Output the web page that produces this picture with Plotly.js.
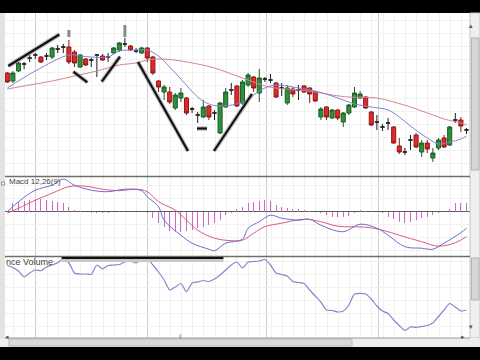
<!DOCTYPE html>
<html><head><meta charset="utf-8">
<script src="https://cdn.plot.ly/plotly-3.0.1.min.js"></script>
<style>html,body{margin:0;padding:0;background:#000;}#chart{width:480px;height:360px;}</style>
</head><body><div id="chart"></div>
<script>
// ---- price candles (one per trading day) ----
const openP  = [32.7,31.9,32.9,33.6,34.2,34.5,34.3,34.4,34.3,35.1, 35.3,35.3,34.8,33.3,34.1,34.0,34.5,34.4,34.3,34.7, 35.0,35.6,35.4,34.9,34.7,35.2,34.3,31.9,30.8,30.8, 29.2,30.2,30.2,29.1,28.5,28.3,29.4,28.7,26.7,29.3, 31.0,31.4,29.7,31.5,32.3,30.7,32.1,32.0,31.7,31.2, 29.7,31.1,31.0,31.4,31.2,30.8,28.3,29.3,28.2,29.0, 27.8,28.7,29.3,30.2,30.3,28.8,27.8,27.3,27.7,27.3, 25.4,24.8,26.0,26.5,24.8,25.7,24.2,25.2,26.2,25.5, 28.0,28.0,27.0];
const highP  = [32.8,32.9,33.8,33.8,34.5,34.7,34.4,34.7,35.3,35.5, 35.6,36.0,35.0,34.6,34.2,34.2,34.6,34.6,34.7,35.3, 35.8,36.2,35.5,35.2,35.3,35.3,34.4,32.0,31.5,31.3, 30.7,31.2,30.3,29.3,28.8,30.0,29.5,29.0,29.8,31.2, 31.7,31.5,32.0,32.7,32.4,33.1,32.3,32.6,31.8,31.7, 31.5,31.3,31.5,31.5,31.3,30.9,29.3,29.4,29.1,29.1, 28.8,29.6,31.3,30.9,30.4,28.9,28.5,27.6,28.2,27.4, 26.2,25.2,26.5,26.7,26.0,26.0,25.2,26.2,26.5,27.4, 28.7,28.3,27.2];
const lowP   = [31.7,31.7,32.8,33.1,33.8,34.1,33.7,34.0,34.1,34.7, 34.7,33.6,33.3,33.2,33.4,33.3,32.3,33.9,33.8,34.6, 34.8,35.3,34.9,34.7,34.6,33.8,32.5,30.8,30.0,29.6, 29.0,29.8,28.5,28.7,27.7,28.2,28.0,28.0,26.6,29.2, 30.5,29.3,29.5,31.3,30.8,29.8,31.8,31.7,30.2,30.4, 29.5,30.3,30.0,30.7,29.7,29.8,28.0,28.0,28.1,28.0, 27.3,28.5,29.2,30.1,29.1,27.4,27.0,26.9,27.0,25.6, 24.6,24.5,25.0,25.2,24.3,24.7,23.8,25.0,25.2,25.4, 27.7,26.8,26.6];
const closeP = [31.8,32.7,33.7,33.6,34.2,34.5,33.8,34.4,35.2,35.1, 35.3,33.8,33.7,34.5,33.5,34.0,34.5,34.0,34.3,35.2, 35.7,35.6,35.0,34.9,35.2,34.2,32.7,31.3,31.3,29.8, 30.5,30.7,28.7,29.1,28.5,29.3,28.3,28.7,29.7,30.8, 31.0,29.4,31.8,32.5,31.2,32.2,32.1,32.0,30.3,31.2, 31.2,30.6,31.0,30.8,30.6,29.9,29.1,28.3,29.0,28.2, 28.7,29.5,30.7,30.6,29.2,27.5,27.8,27.3,27.7,25.7, 24.8,24.8,26.0,25.3,25.7,25.1,24.7,26.0,25.3,27.3, 28.0,27.4,27.0];

// ---- moving averages ----
const maFastIdx = [0,5,11,13,15,18,20,23,25,27,29,31,34,36,38,41,43,44,46,48,50,52,55,58,60,62,65,68,70,72,75,77,79,81,82];
const maFast    = [31.2,32.9,34.5,34.4,34.3,34.3,34.9,35.0,35.0,34.4,33.3,32.1,30.3,29.6,29.4,29.6,30.0,30.5,31.2,31.5,31.4,31.2,30.9,30.4,30.0,29.6,29.3,29.0,28.3,27.4,26.2,25.6,25.8,26.1,26.4];
const maSlowIdx = [0,4,8,12,16,20,23,25,28,31,34,37,41,43,46,48,52,55,58,61,66,69,72,76,78,81,82];
const maSlow    = [31.1,31.5,31.9,32.4,32.9,33.5,33.7,34.0,34.1,33.9,33.6,33.2,32.4,32.0,31.4,31.2,31.0,30.8,30.5,30.3,30.2,29.8,29.3,28.5,28.1,27.7,27.5];

// ---- MACD 12,26(9) ----
const macdIdx  = [0,2,5,8,10,12,15,18,21,24,25,27,28,31,33,36,37,39,42,43,45,47,49,52,54,56,60,63,66,68,71,74,76,78,81,82];
const macdLine = [0,0.20,0.43,0.53,0.65,0.53,0.43,0.40,0.45,0.42,0.30,0.10,-0.17,-0.47,-0.63,-0.75,-0.78,-0.63,-0.55,-0.33,-0.20,-0.07,-0.13,-0.17,-0.15,-0.27,-0.40,-0.25,-0.33,-0.47,-0.70,-0.73,-0.75,-0.63,-0.42,-0.33];
const signalIdx  = [0,2,5,8,11,14,17,20,23,25,27,30,32,34,37,40,42,44,46,49,53,56,59,64,67,70,74,77,80,82];
const signalLine = [-0.03,0.07,0.23,0.37,0.50,0.51,0.45,0.42,0.45,0.40,0.20,0.03,-0.17,-0.37,-0.53,-0.58,-0.57,-0.43,-0.30,-0.23,-0.15,-0.20,-0.29,-0.31,-0.37,-0.47,-0.60,-0.69,-0.62,-0.50];
const macdHist = [0.01,0.17,0.19,0.21,0.23,0.25,0.25,0.23,0.22,0.20, 0.17,0.10,0.03,0.01,-0.01,-0.02,-0.03,-0.03,-0.02,-0.01, 0.01,0.01,0,-0.01,-0.01,-0.03,-0.13,-0.23,-0.31,-0.38, -0.40,-0.40,-0.39,-0.37,-0.33,-0.30,-0.27,-0.22,-0.17,-0.07, -0.02,0.05,0.10,0.18,0.20,0.22,0.23,0.22,0.13,0.09, 0.07,0.05,0.05,0.03,0.02,0,-0.03,-0.07,-0.10,-0.11, -0.10,-0.09,-0.03,0.03,0.02,0.01,-0.01,-0.03,-0.10,-0.15, -0.20,-0.22,-0.20,-0.17,-0.13,-0.10,-0.07,-0.03,-0.01,0.05, 0.17,0.17,0.17];

// ---- On Balance Volume ----
const obv = [3.45,3.25,2.9,2.3,2.7,3.0,2.93,3.3,3.5,3.73, 4.1,3.7,2.7,2.6,2.6,2.57,3.5,3.1,3.45,3.5, 3.55,3.8,3.9,3.7,4.05,4.07,3.5,2.8,2.0,1.0, 1.3,1.65,0.83,1.7,1.8,1.95,1.85,2.1,2.5,3.0, 3.5,3.8,3.2,3.8,3.85,3.9,4.05,3.5,2.7,2.55, 2.4,1.85,1.75,1.65,1.0,0.4,-0.2,-1.0,-1.05,-1.2, -1.1,-0.5,0.6,0.67,0.6,0.1,-0.6,-1.1,-1.35,-2.0, -2.55,-3.05,-2.7,-2.73,-2.65,-2.55,-2.3,-1.65,-1.0,-0.35, -0.7,-1.1,-1.0];

// ---- month boundaries (major grid) ----
const monthBreaks = [5.125, 25.125, 46.2, 66.2];

// ---- user drawings on the chart ----
const trendX0 = [0.18, 11.79, 16.86, 23.34, 36.91, 33.88];
const trendY0 = [33.4, 32.83, 31.83, 33.8, 24.9, 27.15];
const trendX1 = [9.29, 14.29, 20.13, 32.27, 43.7, 35.66];
const trendY1 = [36.55, 31.77, 34.33, 24.9, 30.6, 27.15];
const markIdx = [11, 21];
const markTop = [37.0, 37.5];
const markBot = [36.3, 36.3];
const obvDrawX = [9.7, 38.6];
const obvDrawLevel = 4.25;

const dayIdx = openP.map((_, i) => i);
const isDoji = i => openP[i] === closeP[i];
const pick = (arr, f) => dayIdx.filter(f).map(i => arr[i]);
const bodyF = i => !isDoji(i), dojiF = i => isDoji(i);

const traces = [
  {type:'scatter', mode:'lines', x:maSlowIdx, y:maSlow, xaxis:'x', yaxis:'y', line:{color:'#d48494', width:1, shape:'spline'}, hoverinfo:'skip'},
  {type:'scatter', mode:'lines', x:maFastIdx, y:maFast, xaxis:'x', yaxis:'y', line:{color:'#8282d6', width:1, shape:'spline'}, hoverinfo:'skip'},
  {type:'candlestick', x:dayIdx.filter(bodyF), open:pick(openP,bodyF), high:pick(highP,bodyF), low:pick(lowP,bodyF), close:pick(closeP,bodyF),
   xaxis:'x', yaxis:'y', whiskerwidth:0, hoverinfo:'skip',
   increasing:{line:{color:'#1b5e24', width:1}, fillcolor:'#2f8f3d'},
   decreasing:{line:{color:'#901818', width:1}, fillcolor:'#e02a2a'}},
  {type:'candlestick', x:dayIdx.filter(dojiF), open:pick(openP,dojiF), high:pick(highP,dojiF), low:pick(lowP,dojiF), close:pick(closeP,dojiF),
   xaxis:'x', yaxis:'y', whiskerwidth:0, hoverinfo:'skip',
   increasing:{line:{color:'#1e1e1e', width:1}, fillcolor:'#1e1e1e'},
   decreasing:{line:{color:'#1e1e1e', width:1}, fillcolor:'#1e1e1e'}},
  {type:'bar', x:dayIdx, y:macdHist, xaxis:'x', yaxis:'y2', width:0.2, marker:{color:'#d068c2', line:{width:0}}, hoverinfo:'skip'},
  {type:'scatter', mode:'lines', x:signalIdx, y:signalLine, xaxis:'x', yaxis:'y2', line:{color:'#dc5a80', width:1, shape:'spline'}, hoverinfo:'skip'},
  {type:'scatter', mode:'lines', x:macdIdx, y:macdLine, xaxis:'x', yaxis:'y2', line:{color:'#6c6cd2', width:1, shape:'spline'}, hoverinfo:'skip'},
  {type:'scatter', mode:'lines', x:dayIdx, y:obv, xaxis:'x', yaxis:'y3', line:{color:'#8585cc', width:1.2, shape:'spline', smoothing:0.6}, hoverinfo:'skip'}
];

// page geometry helpers (layout only)
const ML=5, MR=10, MT=13, MB=22, W=480, H=360, PW=W-ML-MR, PH=H-MT-MB;
const px = v => (v-ML)/PW, py = v => (H-MB-v)/PH;

const shapes = [
  {type:'rect', xref:'paper', yref:'paper', x0:px(0), x1:px(ML), y0:py(347), y1:py(MT), fillcolor:'#e3e3e3', line:{width:0}},
  {type:'rect', xref:'paper', yref:'paper', x0:px(470), x1:px(480), y0:py(338), y1:py(MT), fillcolor:'#efefef', line:{color:'#c4c4c4', width:1}},
  {type:'rect', xref:'paper', yref:'paper', x0:px(471.5), x1:px(479), y0:py(170), y1:py(38), fillcolor:'#d6d6d6', line:{color:'#b2b2b2', width:1}},
  {type:'rect', xref:'paper', yref:'paper', x0:px(471.5), x1:px(479), y0:py(300), y1:py(258), fillcolor:'#d6d6d6', line:{color:'#b2b2b2', width:1}},
  {type:'rect', xref:'paper', yref:'paper', x0:px(0), x1:px(480), y0:py(347), y1:py(338), fillcolor:'#ededed', line:{width:0}},
  {type:'rect', xref:'paper', yref:'paper', x0:px(9), x1:px(352), y0:py(346), y1:py(339), fillcolor:'#dadada', line:{color:'#b8b8b8', width:1}},
  {type:'line', xref:'paper', yref:'paper', x0:0, x1:1, y0:py(176.5), y1:py(176.5), line:{color:'#6e6e6e', width:1.5}},
  {type:'line', xref:'paper', yref:'paper', x0:0, x1:1, y0:py(256.5), y1:py(256.5), line:{color:'#6e6e6e', width:1.5}},
  {type:'line', xref:'paper', yref:'paper', x0:0, x1:1, y0:0, y1:0, line:{color:'#9a9a9a', width:1}},
  {type:'rect', xref:'paper', yref:'paper', x0:px(1.5), x1:px(4.5), y0:py(185), y1:py(182), fillcolor:'#ffffff', line:{color:'#777', width:0.8}}
];
trendX0.forEach((_, k) => {
  shapes.push({type:'line', xref:'x', yref:'y', x0:trendX0[k], y0:trendY0[k], x1:trendX1[k], y1:trendY1[k], line:{color:'rgba(120,120,120,0.45)', width:4.5}});
  shapes.push({type:'line', xref:'x', yref:'y', x0:trendX0[k], y0:trendY0[k], x1:trendX1[k], y1:trendY1[k], line:{color:'#111', width:2.2}});
});
markIdx.forEach((_, k) => {
  shapes.push({type:'line', xref:'x', yref:'y', x0:markIdx[k], x1:markIdx[k], y0:markBot[k], y1:markTop[k], line:{color:'#8a8a8a', width:3}});
});
shapes.push({type:'line', xref:'x', yref:'y3', x0:obvDrawX[0], x1:obvDrawX[1], y0:obvDrawLevel-0.3, y1:obvDrawLevel-0.3, line:{color:'#c8c8c8', width:3}});
shapes.push({type:'line', xref:'x', yref:'y3', x0:obvDrawX[0], x1:obvDrawX[1], y0:obvDrawLevel, y1:obvDrawLevel, line:{color:'#111', width:3}});

const annotations = [
  {xref:'paper', yref:'paper', x:px(7), y:py(181.5), text:'Macd 12,26(9)', showarrow:false, xanchor:'left', yanchor:'middle', font:{size:8, color:'#444', family:'Liberation Sans, Arial'}},
  {xref:'paper', yref:'paper', x:px(4), y:py(261.5), text:'nce Volume', showarrow:false, xanchor:'left', yanchor:'middle', font:{size:9, color:'#444', family:'Liberation Sans, Arial'}},
  {xref:'paper', yref:'paper', x:px(475), y:py(19), text:'▴', showarrow:false, font:{size:7, color:'#555'}},
  {xref:'paper', yref:'paper', x:px(475), y:py(333), text:'▾', showarrow:false, font:{size:7, color:'#555'}},
  {xref:'paper', yref:'paper', x:px(3), y:py(342.5), text:'◂', showarrow:false, font:{size:7, color:'#555'}},
  {xref:'paper', yref:'paper', x:px(467), y:py(342.5), text:'▸', showarrow:false, font:{size:7, color:'#555'}},
  {xref:'paper', yref:'paper', x:px(180), y:py(342.5), text:'⦀', showarrow:false, font:{size:6, color:'#888'}}
];

const gridC = '#f1f1f1';
const layout = {
  width:W, height:H, margin:{l:ML, r:MR, t:MT, b:MB, pad:0},
  paper_bgcolor:'#000', plot_bgcolor:'#fff', showlegend:false,
  boxgap:0.15, boxgroupgap:0.15, bargap:0,
  xaxis:{domain:[0,1], range:[-0.41, 82.63], anchor:'y3', showticklabels:false, ticks:'',
         tickmode:'array', tickvals:monthBreaks, showgrid:true, gridcolor:'#cdcdcd', gridwidth:1,
         zeroline:false, showline:false, rangeslider:{visible:false}, fixedrange:true,
         minor:{tickmode:'linear', tick0:5.125, dtick:2, showgrid:true, gridcolor:gridC, gridwidth:1, ticks:''}},
  yaxis:{domain:[py(176), 1], range:[22.4, 38.7], anchor:'x', showticklabels:false, ticks:'', tick0:22.4, dtick:1.3,
         gridcolor:gridC, zeroline:false, fixedrange:true},
  yaxis2:{domain:[py(256), py(177)], range:[-0.886, 0.694], anchor:'x', showticklabels:false, ticks:'', tick0:0, dtick:0.26,
          gridcolor:gridC, zeroline:true, zerolinecolor:'#5a5a5a', zerolinewidth:1, fixedrange:true},
  yaxis3:{domain:[0, py(257)], range:[-3.8, 4.3], anchor:'x', showticklabels:false, ticks:'', tick0:0, dtick:1.3,
          gridcolor:gridC, zeroline:false, fixedrange:true},
  shapes:shapes, annotations:annotations
};

Plotly.newPlot('chart', traces, layout, {staticPlot:true, displayModeBar:false});
</script>
</body></html>
